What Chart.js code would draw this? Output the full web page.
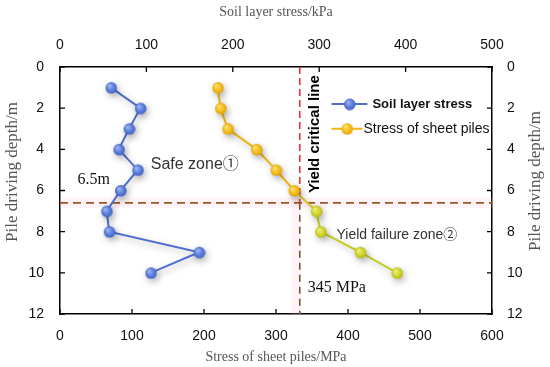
<!DOCTYPE html>
<html>
<head>
<meta charset="utf-8">
<script src="https://cdn.jsdelivr.net/npm/chart.js@4.4.1/dist/chart.umd.min.js"></script>
<style>
  html, body { margin: 0; padding: 0; background: #fff; }
  canvas { display: block; }
</style>
</head>
<body>
<canvas id="chart" width="550" height="367"></canvas>
<script>
// Data
const depths = [1, 2, 3, 4, 5, 6, 7, 8, 9, 10];                      // m
const soilStress = [59, 93, 80, 68, 90, 70, 54, 57, 161, 105];        // kPa, top axis
const pileStress = [219, 223, 233, 273, 300, 325, 356, 362, 417, 468]; // MPa, bottom axis

const mpaTicks = [0, 100, 200, 300, 400, 500, 600];
const kpaTicks = [0, 100, 200, 300, 400, 500];
const depthTicks = [0, 2, 4, 6, 8, 10, 12];

// where the dashed guide lines sit in the picture
const yieldStress = 333;  // MPa
const yieldDepth = 6.6;   // m

// Text notes, placed in bottom-axis MPa / depth units
const notes = [
  { text: "Safe zone\u2460", x: 126, y: 4.76, font: "16px 'Liberation Sans', 'Noto Sans CJK SC'", color: "#333", align: "left" },
  { text: "6.5m", x: 47, y: 5.49, font: "16px 'Liberation Serif'", color: "#111", align: "center" },
  { text: "Yield critical line", x: 354, y: 3.26, font: "bold 15px 'Liberation Sans'", color: "#000", align: "center", rotate: true },
  { text: "Yield failure zone\u2461", x: 384, y: 8.16, font: "14px 'Liberation Sans', 'Noto Sans CJK SC'", color: "#333", align: "left" },
  { text: "345 MPa", x: 344, y: 10.74, font: "16px 'Liberation Serif'", color: "#111", align: "left" }
];

// Colours
const blue = "#4f6ed0";
const yellow = "#f2b415";
const lime = "#c6cc22";

// shaded round markers
function makeDot(light, mid, dark, r) {
  const c = document.createElement("canvas");
  const size = r * 2 + 2;
  c.width = c.height = size;
  const g = c.getContext("2d");
  const grad = g.createRadialGradient(size / 2 - r * 0.35, size / 2 - r * 0.4, r * 0.1, size / 2, size / 2, r);
  grad.addColorStop(0, light);
  grad.addColorStop(0.6, mid);
  grad.addColorStop(1, dark);
  g.fillStyle = grad;
  g.beginPath();
  g.arc(size / 2, size / 2, r, 0, Math.PI * 2);
  g.fill();
  return c;
}

const blueDot = makeDot("#9fb4f2", "#5c7edc", "#4262c0", 5.8);
const yellowDot = makeDot("#ffe070", "#f5be1c", "#e0a208", 5.8);
const limeDot = makeDot("#eef07a", "#d2d62c", "#b4b814", 5.8);

const soilPoints = depths.map((d, i) => ({ x: soilStress[i], y: d }));
const pilePoints = depths.map((d, i) => ({ x: pileStress[i], y: d }));
const pileDots = depths.map((d, i) => i >= 6 ? limeDot : yellowDot);

function guide(points, color, width, dash, order) {
  return {
    data: points,
    xAxisID: "x",
    yAxisID: "y",
    showLine: true,
    borderColor: color,
    borderWidth: width,
    borderDash: dash,
    pointRadius: 0,
    order: order
  };
}

const decor = {
  id: "decor",
  beforeDatasetDraw(chart, args) {
    if (!chart.data.datasets[args.index].shadow) return;
    const ctx = chart.ctx;
    ctx.save();
    ctx.shadowColor = "rgba(0,0,0,0.3)";
    ctx.shadowBlur = 7;
    ctx.shadowOffsetX = 2;
    ctx.shadowOffsetY = 3;
  },
  afterDatasetDraw(chart, args) {
    if (chart.data.datasets[args.index].shadow) chart.ctx.restore();
  },
  afterDraw(chart) {
    const ctx = chart.ctx;
    const a = chart.chartArea;
    const s = chart.scales;

    // inward tick marks
    ctx.save();
    ctx.strokeStyle = "#000";
    ctx.lineWidth = 1.3;
    ctx.beginPath();
    mpaTicks.forEach(v => {
      const x = s.x.getPixelForValue(v);
      ctx.moveTo(x, a.bottom); ctx.lineTo(x, a.bottom - 5);
    });
    kpaTicks.forEach(v => {
      const x = s.xTop.getPixelForValue(v);
      ctx.moveTo(x, a.top); ctx.lineTo(x, a.top + 5);
    });
    depthTicks.forEach(v => {
      const y = s.y.getPixelForValue(v);
      ctx.moveTo(a.left, y); ctx.lineTo(a.left + 5, y);
      ctx.moveTo(a.right, y); ctx.lineTo(a.right - 5, y);
    });
    ctx.stroke();

    // vertical axis titles, both read bottom to top
    ctx.fillStyle = "#555";
    ctx.font = "17px 'Liberation Serif'";
    ctx.textAlign = "center";
    ctx.textBaseline = "middle";
    [[13, 172], [536, 181]].forEach(([x, y]) => {
      ctx.save();
      ctx.translate(x, y);
      ctx.rotate(-Math.PI / 2);
      ctx.fillText("Pile driving depth/m", 0, 0);
      ctx.restore();
    });

    // notes
    notes.forEach(n => {
      const x = s.x.getPixelForValue(n.x);
      const y = s.y.getPixelForValue(n.y);
      ctx.font = n.font;
      ctx.fillStyle = n.color;
      ctx.textAlign = n.align;
      ctx.textBaseline = "middle";
      if (n.rotate) {
        ctx.save();
        ctx.translate(x, y);
        ctx.rotate(-Math.PI / 2);
        ctx.fillText(n.text, 0, 0);
        ctx.restore();
      } else {
        ctx.fillText(n.text, x, y);
      }
    });

    // legend
    const lx = s.x.getPixelForValue(377);
    const items = [
      { ds: chart.data.datasets[0], y: s.y.getPixelForValue(1.8), len: 36, gap: 5, font: "bold 13px 'Liberation Sans'", dot: blueDot },
      { ds: chart.data.datasets[1], y: s.y.getPixelForValue(3.0), len: 31, gap: 1, font: "14px 'Liberation Sans'", dot: yellowDot }
    ];
    items.forEach(it => {
      ctx.save();
      ctx.strokeStyle = typeof it.ds.borderColor === "string" ? it.ds.borderColor : yellow;
      ctx.lineWidth = 2;
      ctx.beginPath();
      ctx.moveTo(lx, it.y); ctx.lineTo(lx + it.len, it.y);
      ctx.stroke();
      ctx.drawImage(it.dot, lx + it.len / 2 - it.dot.width / 2, it.y - it.dot.height / 2);
      ctx.restore();
      ctx.font = it.font;
      ctx.fillStyle = "#111";
      ctx.textAlign = "left";
      ctx.textBaseline = "middle";
      ctx.fillText(it.ds.label, lx + it.len + it.gap, it.y);
    });
    ctx.restore();
  }
};

const tickFont = { family: "'Liberation Sans'", size: 14 };

new Chart(document.getElementById("chart"), {
  type: "scatter",
  data: {
    datasets: [
      {
        label: "Soil layer stress",
        data: soilPoints,
        xAxisID: "xTop",
        yAxisID: "y",
        showLine: true,
        borderColor: blue,
        borderWidth: 2,
        pointStyle: blueDot,
        pointRadius: 5.8,
        shadow: true,
        order: 0
      },
      {
        label: "Stress of sheet piles",
        data: pilePoints,
        xAxisID: "x",
        yAxisID: "y",
        showLine: true,
        borderColor: yellow,
        borderWidth: 2,
        segment: {
          borderColor: c => c.p0DataIndex >= 6 ? lime : (c.p0DataIndex === 5 ? "#dcc424" : yellow)
        },
        pointStyle: pileDots,
        pointRadius: 5.8,
        shadow: true,
        order: 1
      },
      guide([{ x: 0, y: yieldDepth }, { x: 600, y: yieldDepth }], "rgba(250,190,215,0.18)", 10, [], 9),
      guide([{ x: yieldStress - 5, y: 6 }, { x: yieldStress - 5, y: 12 }], "rgba(250,190,215,0.18)", 10, [], 8),
      guide([{ x: yieldStress, y: 0 }, { x: yieldStress, y: yieldDepth }], "#e4303c", 1.6, [7, 4], 5),
      guide([{ x: yieldStress, y: yieldDepth }, { x: yieldStress, y: 12 }], "#7a5430", 1.6, [7, 5], 4),
      guide([{ x: 0, y: yieldDepth }, { x: 600, y: yieldDepth }], "#9a5a22", 1.6, [8, 5], 3)
    ]
  },
  options: {
    responsive: false,
    animation: false,
    devicePixelRatio: 1,
    layout: { padding: 0 },
    plugins: {
      legend: { display: false },
      tooltip: { enabled: false }
    },
    scales: {
      x: {
        type: "linear",
        position: "bottom",
        min: 0, max: 600,
        afterBuildTicks: sc => { sc.ticks = mpaTicks.map(v => ({ value: v })); },
        afterFit: sc => { sc.height = 53; },
        grid: { display: false, drawTicks: false },
        border: { display: true, color: "#000", width: 1.5 },
        ticks: { font: tickFont, color: "#111", padding: 14, maxRotation: 0 },
        title: {
          display: true,
          text: "Stress of sheet piles/MPa",
          font: { family: "'Liberation Serif'", size: 14 },
          color: "#555",
          padding: { top: 0, bottom: 1 }
        }
      },
      xTop: {
        type: "linear",
        position: "top",
        min: 0, max: 500,
        afterBuildTicks: sc => { sc.ticks = kpaTicks.map(v => ({ value: v })); },
        afterFit: sc => { sc.height = 67; },
        grid: { display: false, drawTicks: false },
        border: { display: true, color: "#000", width: 1.5 },
        ticks: { font: tickFont, color: "#111", padding: 13, maxRotation: 0 },
        title: {
          display: true,
          text: "Soil layer stress/kPa",
          font: { family: "'Liberation Serif'", size: 14 },
          color: "#555",
          padding: { top: 4, bottom: 0 }
        }
      },
      y: {
        type: "linear",
        position: "left",
        reverse: true,
        min: 0, max: 12,
        afterBuildTicks: sc => { sc.ticks = depthTicks.map(v => ({ value: v })); },
        afterFit: sc => { sc.width = 60; },
        grid: { display: false, drawTicks: false },
        border: { display: true, color: "#000", width: 1.5 },
        ticks: { font: tickFont, color: "#111", padding: 16 }
      },
      yRight: {
        type: "linear",
        position: "right",
        reverse: true,
        min: 0, max: 12,
        afterBuildTicks: sc => { sc.ticks = depthTicks.map(v => ({ value: v })); },
        afterFit: sc => { sc.width = 58; },
        grid: { display: false, drawTicks: false },
        border: { display: true, color: "#000", width: 1.5 },
        ticks: { font: tickFont, color: "#111", padding: 15 }
      }
    }
  },
  plugins: [decor]
});
</script>
</body>
</html>
